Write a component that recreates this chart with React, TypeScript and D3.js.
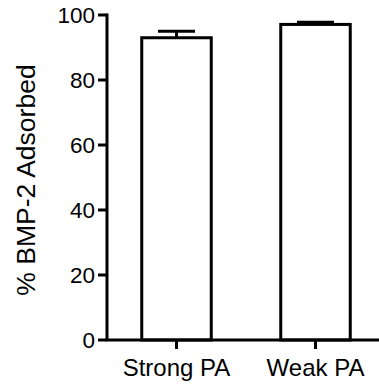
import React from 'react';
import * as d3 from 'd3';

const categories = ['Strong PA', 'Weak PA'];
const means = [93.0, 97.1];
const errors = [2.0, 0.7];
const yTicks = [0, 20, 40, 60, 80, 100];

const width = 379;
const height = 387;

const App = () => {
  const x = d3.scalePoint().domain(categories).range([107, 385]).padding(0.5);
  const y = d3.scaleLinear().domain([0, 100]).range([340, 15]);
  const barW = x.step() * 0.5;
  const capW = 37;
  const font = 'Arial, "Liberation Sans", Helvetica, sans-serif';

  return (
    <svg width={width} height={height} style={{ position: 'absolute', left: 0, top: 0 }}>
      <rect width={width} height={height} fill="#fff" />
      {categories.map((c, i) => {
        const cx = x(c) as number;
        const top = y(means[i]);
        const errTop = y(means[i] + errors[i]);
        return (
          <g key={c}>
            <line x1={cx} x2={cx} y1={top} y2={errTop} stroke="#000" strokeWidth={3} />
            <line x1={cx - capW / 2} x2={cx + capW / 2} y1={errTop} y2={errTop} stroke="#000" strokeWidth={3} />
            <rect x={cx - barW / 2} y={top} width={barW} height={y(0) - top} fill="#fff" stroke="#000" strokeWidth={3} />
          </g>
        );
      })}
      {/* y axis */}
      <line x1={107} x2={107} y1={y(100) - 1.5} y2={y(0)} stroke="#000" strokeWidth={3} />
      {yTicks.map((t) => (
        <g key={t}>
          <line x1={98} x2={107} y1={y(t)} y2={y(t)} stroke="#000" strokeWidth={3} />
          <text x={95} y={y(t)} dy="0.36em" textAnchor="end" fontFamily={font} fontSize={22.5}>
            {t}
          </text>
        </g>
      ))}
      {/* x axis */}
      <line x1={105.5} x2={379} y1={y(0)} y2={y(0)} stroke="#000" strokeWidth={3} />
      {categories.map((c) => (
        <g key={c}>
          <line x1={x(c)} x2={x(c)} y1={y(0)} y2={349} stroke="#000" strokeWidth={3} />
          <text x={x(c)} y={376} textAnchor="middle" fontFamily={font} fontSize={24}>
            {c}
          </text>
        </g>
      ))}
      <text
        transform={`translate(35,180) rotate(-90)`}
        textAnchor="middle"
        fontFamily={font}
        fontSize={26.5}
      >
        % BMP-2 Adsorbed
      </text>
    </svg>
  );
};

export default App;
